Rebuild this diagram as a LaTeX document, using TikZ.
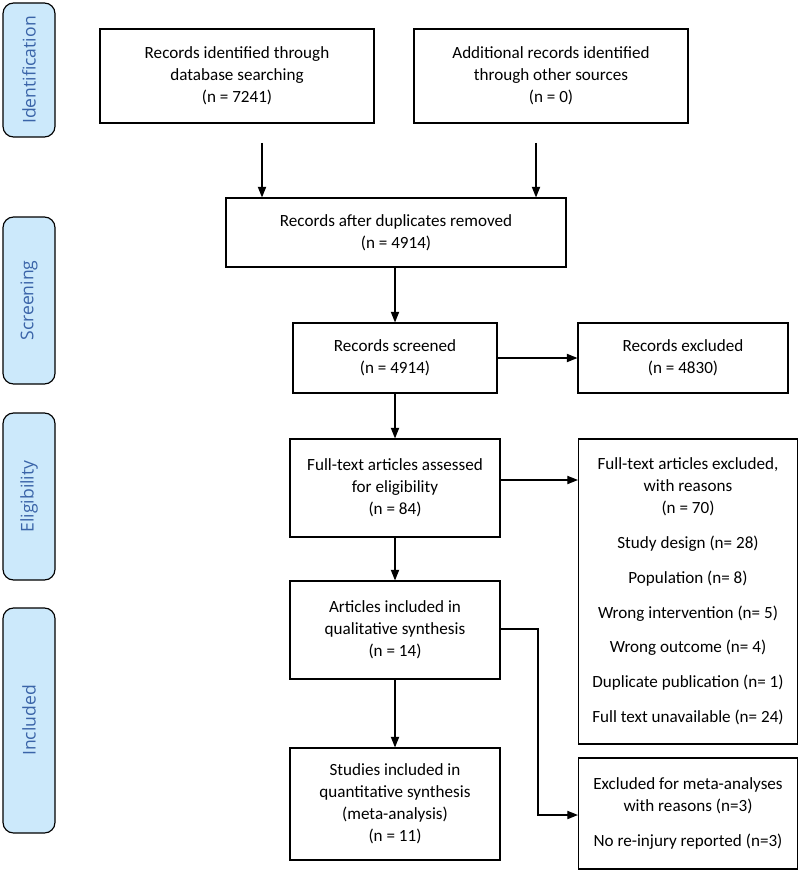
\documentclass[tikz,border=0pt]{standalone}
\usepackage{fontspec}
\setmainfont{Carlito}
\newfontfamily\phasefont{Open Sans}
\usetikzlibrary{positioning,arrows.meta}
\definecolor{phasefill}{RGB}{204,233,251}
\definecolor{phasetext}{RGB}{58,100,168}
\tikzset{
  box/.style={draw, line width=1pt, align=center, font=\fontsize{14.6}{18.7}\selectfont, inner sep=2pt},
  phase/.style={draw, line width=1pt, fill=phasefill, rounded corners=9pt},
  phase label/.style={rotate=90, font=\phasefont\fontsize{15}{18}\selectfont, text=phasetext},
  flow/.style={-{Stealth[length=9pt,width=7pt,inset=0pt]}, line width=1pt}
}
\begin{document}
\begin{tikzpicture}[x=0.03cm,y=-0.03cm]
  \useasboundingbox (0,0) rectangle (800,872);
  % phase labels
  \draw[phase] (3,3) rectangle (55,137) node[midway,phase label] (pid) {Identification};
  \draw[phase] (3,217) rectangle (55,384) node[midway,phase label] (pscr) {Screening};
  \draw[phase] (3,413) rectangle (55,580) node[midway,phase label] (pel) {Eligibility};
  \draw[phase] (3,608) rectangle (55,833) node[midway,phase label] (pinc) {Included};
  % boxes
  \node[box, minimum width=274*0.03cm, minimum height=94*0.03cm] (db) at (237,76) {Records identified through\\database searching\\(n = 7241)};
  \node[box, minimum width=274*0.03cm, minimum height=94*0.03cm] (other) at (551,76) {Additional records identified\\through other sources\\(n = 0)};
  \node[box, minimum width=340*0.03cm, minimum height=69*0.03cm] (dup) at (396,232.5) {Records after duplicates removed\\(n = 4914)};
  \node[box, minimum width=204*0.03cm, minimum height=70*0.03cm] (scr) at (395,358) {Records screened\\(n = 4914)};
  \node[box, minimum width=210*0.03cm, minimum height=70*0.03cm] (exc) at (683,358) {Records excluded\\(n = 4830)};
  \node[box, minimum width=210*0.03cm, minimum height=98*0.03cm] (full) at (395,488) {Full-text articles assessed\\for eligibility\\(n = 84)};
  \node[box, minimum width=219*0.03cm, minimum height=305*0.03cm] (fexc) at (688,591.5) {Full-text articles excluded,\\with reasons\\(n = 70)\\[11pt]Study design (n= 28)\\[11pt]Population (n= 8)\\[11pt]Wrong intervention (n= 5)\\[11pt]Wrong outcome (n= 4)\\[11pt]Duplicate publication (n= 1)\\[11pt]Full text unavailable (n= 24)};
  \node[box, minimum width=210*0.03cm, minimum height=98*0.03cm] (qual) at (395,630) {Articles included in\\qualitative synthesis\\(n = 14)};
  \node[box, minimum width=210*0.03cm, minimum height=112*0.03cm] (quant) at (395,804) {Studies included in\\quantitative synthesis\\(meta-analysis)\\(n = 11)};
  \node[box, minimum width=219*0.03cm, minimum height=111*0.03cm] (mexc) at (688,813.5) {Excluded for meta-analyses\\with reasons (n=3)\\[11pt]No re-injury reported (n=3)};
  % connectors
  \coordinate (db0) at (262,143);
  \coordinate (ot0) at (536,143);
  \coordinate (bend) at (538,629);
  \coordinate (meta in) at (538,815);
  \coordinate (full out) at (500,480);
  \draw[flow] (db0) -- (db0 |- dup.north);
  \draw[flow] (ot0) -- (ot0 |- dup.north);
  \draw[flow] (dup.south -| scr) -- (scr.north);
  \draw[flow] (scr) -- (exc);
  \draw[flow] (scr) -- (full);
  \draw[flow] (full out) -- (full out -| fexc.west);
  \draw[flow] (full) -- (qual);
  \draw[flow] (qual) -- (quant);
  \draw[flow] (qual.east |- bend) -- (bend) -- (meta in) -- (meta in -| mexc.west);
\end{tikzpicture}
\end{document}
